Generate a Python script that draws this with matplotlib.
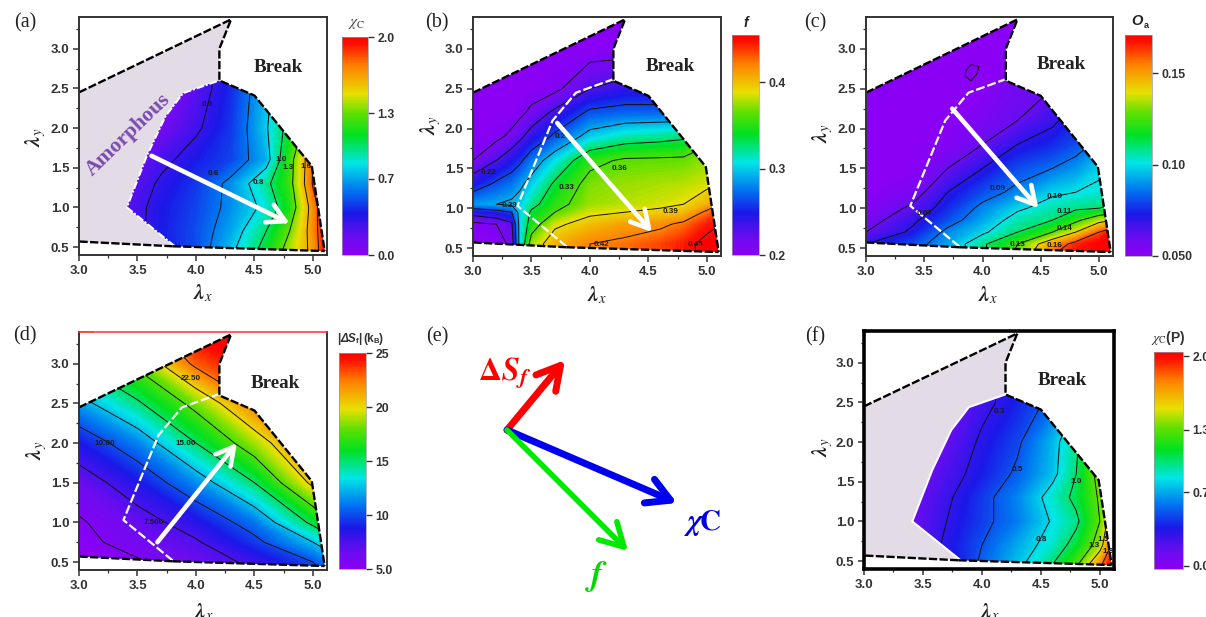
import numpy as np
import matplotlib
matplotlib.use('Agg')
import matplotlib.pyplot as plt
from matplotlib.colors import LinearSegmentedColormap, Normalize
from matplotlib.cm import ScalarMappable
from matplotlib.patches import Polygon
from matplotlib.ticker import MultipleLocator

plt.rcParams['font.family'] = ['Liberation Sans', 'DejaVu Sans']
plt.rcParams['mathtext.fontset'] = 'stix'

W, H = 1206, 617

# region outlines, (lambda_x, lambda_y)
outer_x = [3.0, 3.0, 4.3, 4.2, 4.2, 4.5, 4.99, 5.1, 3.8]
outer_y = [0.57, 2.45, 3.37, 3.0, 2.6, 2.41, 1.52, 0.45, 0.51]
inner_x = [3.41, 3.58, 3.74, 3.89, 4.2, 4.5, 4.99, 5.1, 3.82]
inner_y = [1.0, 1.65, 2.15, 2.44, 2.6, 2.41, 1.52, 0.45, 0.51]
white_x = [3.8, 3.38, 3.68, 3.88, 4.2]
white_y = [0.52, 1.03, 2.1, 2.45, 2.62]

# panel a, crystallinity
a_x = [3.0, 3.4, 3.7, 4.0, 4.3, 4.6, 4.8, 5.0, 5.12]
a_y = [0.4, 0.7, 1.0, 1.3, 1.6, 2.0, 2.5, 3.0, 3.4]
a_z = [[0.1, 0.18, 0.35, 0.5, 0.78, 1.1, 1.42, 1.65, 2.0],
       [0.1, 0.2, 0.38, 0.5, 0.7, 1.0, 1.3, 1.7, 2.0],
       [0.1, 0.2, 0.37, 0.48, 0.65, 0.85, 1.15, 1.7, 2.0],
       [0.05, 0.15, 0.33, 0.45, 0.65, 0.95, 1.22, 1.82, 2.0],
       [0.03, 0.1, 0.25, 0.38, 0.48, 0.72, 1.2, 1.8, 2.0],
       [0.0, 0.05, 0.12, 0.27, 0.45, 0.78, 1.08, 1.5, 1.8],
       [0.0, 0.0, 0.05, 0.2, 0.42, 0.75, 1.0, 1.5, 1.8],
       [0.0, 0.0, 0.05, 0.2, 0.42, 0.75, 1.0, 1.5, 1.8],
       [0.0, 0.0, 0.05, 0.2, 0.42, 0.75, 1.0, 1.5, 1.8]]
a_levels = [0.3, 0.6, 0.8, 1.0, 1.3, 1.6, 1.8]
a_labels = [('0.3', 4.1, 2.3), ('0.6', 4.15, 1.43), ('0.8', 4.53, 1.32),
            ('1.0', 4.73, 1.61), ('1.3', 4.79, 1.5), ('1.6', 4.94, 1.51)]

# panel b, volume fraction
b_x = [3.0, 3.2, 3.33, 3.4, 3.5, 3.7, 4.0, 4.3, 4.6, 4.8, 5.0, 5.12]
b_y = [0.4, 0.55, 0.8, 0.95, 1.05, 1.3, 1.6, 1.9, 2.2, 2.5, 3.0, 3.4]
b_z = [[.20, .20, .21, .28, .36, .40, .42, .425, .435, .445, .455, .455],
       [.20, .20, .215, .30, .375, .405, .42, .425, .435, .445, .455, .455],
       [.205, .21, .225, .30, .345, .385, .40, .41, .415, .425, .445, .45],
       [.24, .25, .26, .30, .335, .36, .385, .39, .395, .40, .425, .44],
       [.285, .29, .295, .30, .32, .35, .375, .38, .385, .39, .405, .42],
       [.245, .265, .275, .285, .30, .335, .37, .375, .378, .38, .385, .39],
       [.21, .23, .245, .255, .275, .305, .352, .364, .365, .366, .374, .38],
       [.20, .205, .215, .225, .24, .265, .30, .315, .32, .325, .35, .35],
       [.20, .20, .20, .205, .215, .235, .265, .27, .27, .27, .27, .27],
       [.20, .20, .20, .20, .20, .205, .23, .24, .24, .24, .24, .24],
       [.20, .20, .20, .20, .20, .20, .20, .20, .20, .20, .20, .20],
       [.20, .20, .20, .20, .20, .20, .20, .20, .20, .20, .20, .20]]
b_levels = [.21, .23, .26, .29, .33, .36, .39, .42, .45]
b_labels = [('0.22', 3.13, 1.45), ('0.29', 3.31, 1.03), ('0.2', 3.75, 1.9),
            ('0.33', 3.8, 1.26), ('0.36', 4.25, 1.5), ('0.39', 4.69, 0.96),
            ('0.42', 4.1, 0.55), ('0.45', 4.9, 0.55)]

# panel c, orientation
c_x = [3.0, 3.4, 3.7, 4.0, 4.3, 4.6, 4.8, 5.0, 5.12]
c_y = [0.4, 0.55, 0.7, 0.85, 1.0, 1.2, 1.5, 1.8, 2.1, 2.5, 3.0, 3.4]
c_z = [[.07, .078, .09, .108, .128, .16, .168, .171, .171],
       [.07, .08, .092, .108, .125, .15, .165, .171, .171],
       [.06, .072, .088, .098, .11, .125, .14, .16, .17],
       [.055, .068, .08, .092, .105, .11, .122, .135, .14],
       [.052, .062, .075, .088, .098, .105, .108, .11, .112],
       [.05, .055, .07, .08, .088, .098, .10, .102, .104],
       [.05, .05, .06, .07, .08, .085, .09, .098, .10],
       [.05, .05, .052, .06, .07, .075, .08, .088, .09],
       [.05, .05, .05, .055, .06, .068, .075, .08, .08],
       [.05, .05, .05, .05, .058, .06, .06, .06, .06],
       [.05, .05, .05, .05, .05, .05, .05, .05, .05],
       [.05, .05, .05, .05, .05, .05, .05, .05, .05]]
c_levels = [.06, .07, .085, .10, .11, .125, .14, .16]
c_labels = [('0.07', 3.5, 0.93), ('0.09', 4.13, 1.25), ('0.10', 4.62, 1.15),
            ('0.11', 4.7, 0.96), ('0.13', 4.3, 0.55), ('0.14', 4.7, 0.75),
            ('0.16', 4.62, 0.53)]
loop_x = [3.86, 3.9, 3.97, 3.95, 3.9, 3.85, 3.86]
loop_y = [2.73, 2.8, 2.78, 2.68, 2.6, 2.66, 2.73]

# panel d, entropy change
d_x = [3.0, 3.5, 4.0, 4.5, 5.0, 5.12]
d_y = [0.4, 0.5, 0.75, 1.0, 1.5, 2.0, 2.5, 3.0, 3.4]
d_z = [[5.0, 5.2, 6.3, 7.6, 9.5, 10.5],
       [5.0, 5.3, 6.5, 7.9, 10.0, 11.0],
       [5.0, 6.2, 7.3, 9.5, 12.5, 13.5],
       [5.3, 6.7, 8.4, 10.9, 15.5, 17.0],
       [6.5, 8.6, 11.4, 15.0, 20.5, 22.0],
       [8.7, 11.2, 15.0, 18.8, 23.0, 24.0],
       [11.8, 14.7, 18.2, 22.5, 25.0, 25.0],
       [15.0, 18.0, 23.0, 25.0, 25.0, 25.0],
       [18.0, 21.0, 25.0, 25.0, 25.0, 25.0]]
d_levels = [5.5, 7.5, 10, 12.5, 15, 17.5, 20, 22.5]
d_labels = [('10.00', 3.22, 2.0), ('15.00', 3.91, 2.0), ('7.500', 3.64, 1.0),
            ('22.50', 3.96, 2.81)]

# panel f, predicted crystallinity
f_x = [3.0, 3.4, 3.7, 4.0, 4.3, 4.6, 4.8, 5.0, 5.12]
f_y = [0.4, 0.7, 1.0, 1.3, 1.6, 2.0, 2.5, 3.0, 3.4]
f_z = [[.05, .1, .25, .55, .77, 1.03, 1.32, 1.8, 2.05],
       [.05, .15, .33, .5, .7, .88, 1.08, 1.4, 1.9],
       [.05, .12, .3, .45, .6, .82, .96, 1.3, 1.7],
       [.03, .1, .27, .44, .62, .88, 1.05, 1.33, 1.5],
       [.02, .05, .22, .37, .53, .75, 1.0, 1.4, 1.5],
       [.0, .02, .15, .33, .47, .73, .97, 1.3, 1.4],
       [.0, .0, .08, .25, .38, .55, .8, 1.1, 1.2],
       [.0, .0, .08, .25, .38, .55, .8, 1.1, 1.2],
       [.0, .0, .08, .25, .38, .55, .8, 1.1, 1.2]]
f_levels = [0.3, 0.5, 0.8, 1.0, 1.3, 1.5, 1.8]
f_labels = [('0.3', 4.15, 2.39), ('0.5', 4.3, 1.66), ('0.8', 4.5, 0.77),
            ('1.0', 4.8, 1.5), ('1.3', 4.95, 0.7), ('1.5', 5.03, 0.77),
            ('1.8', 5.07, 0.62)]

# colour bars
a_ticks = [0.0, 0.7, 1.3, 2.0]
a_ticklabels = ['0.0', '0.7', '1.3', '2.0']
b_ticks = [0.2, 0.3, 0.4]
b_ticklabels = ['0.2', '0.3', '0.4']
c_ticks = [0.05, 0.10, 0.15]
c_ticklabels = ['0.050', '0.10', '0.15']
d_ticks = [5, 10, 15, 20, 25]
d_ticklabels = ['5.0', '10', '15', '20', '25']

rainbow = LinearSegmentedColormap.from_list('rainbow_origin', [
    (0.0, '#8a00f5'), (0.08, '#6a0cf0'), (0.19, '#1a18e8'), (0.3, '#0078f0'),
    (0.42, '#00e6e6'), (0.55, '#00e020'), (0.65, '#60e000'), (0.74, '#e8e000'),
    (0.87, '#ff8000'), (0.97, '#ff1000'), (1.0, '#ff0000')])


def px_axes(fig, l, t, r, b):
    return fig.add_axes([l/W, 1-b/H, (r-l)/W, (b-t)/H])


def px_text(fig, x, y, s, **kw):
    kw.setdefault('ha', 'center')
    kw.setdefault('va', 'center')
    return fig.text(x/W, 1-y/H, s, **kw)


def draw_map(ax, xs, ys, zs, vmin, vmax, levels, labels, clip_x, clip_y, spine=1.4):
    norm = Normalize(vmin, vmax)
    clip = Polygon(np.column_stack([clip_x, clip_y]), closed=True, transform=ax.transData,
                   fc='none', ec='none')
    ax.add_patch(clip)
    # many thin bands so that the fill looks smooth
    fill = ax.contourf(xs, ys, np.array(zs), levels=np.linspace(vmin, vmax, 160), cmap=rainbow,
                       norm=norm, extend='both', antialiased=False)
    fill.set_clip_path(clip)
    cs = ax.contour(xs, ys, np.array(zs), levels=levels, colors='#111111', linewidths=0.7)
    cs.set_clip_path(clip)
    for s, lx, ly in labels:
        ax.text(lx, ly, s, fontsize=5.8, fontweight='bold', color='#1a1a1a',
                ha='center', va='center')
    ax.set_xlim(3.0, 5.12)
    ax.set_ylim(0.4, 3.4)
    ax.xaxis.set_major_locator(MultipleLocator(0.5))
    ax.xaxis.set_minor_locator(MultipleLocator(0.25))
    ax.yaxis.set_major_locator(MultipleLocator(0.5))
    ax.yaxis.set_minor_locator(MultipleLocator(0.25))
    ax.tick_params(which='major', length=4, width=1.1, labelsize=9.5, color='#333333',
                   labelcolor='#333333', pad=3)
    ax.tick_params(which='minor', length=2.2, width=0.9, color='#333333')
    for t in ax.get_xticklabels() + ax.get_yticklabels():
        t.set_fontweight('bold')
    for sp in ax.spines.values():
        sp.set_linewidth(spine)
        sp.set_color('#333333')


def draw_borders(ax):
    ax.plot([outer_x[-1]] + outer_x[:1], [outer_y[-1]] + outer_y[:1], 'k--', lw=1.7, dashes=(3.5, 1))
    ax.plot(outer_x[1:8], outer_y[1:8], 'k--', lw=1.7, dashes=(3.5, 1))
    ax.plot([outer_x[-1], outer_x[-2]], [outer_y[-1], outer_y[-2]], 'k--', lw=1.7, dashes=(3.5, 1))


def draw_white(ax):
    ax.plot(white_x, white_y, '--', color='white', lw=1.6, dashes=(4, 1.3))


def draw_arrow(ax, start, end):
    ax.annotate('', xy=end, xytext=start,
                arrowprops=dict(arrowstyle='->,head_length=0.9,head_width=0.5', color='white',
                                lw=3.3, shrinkA=0, shrinkB=0, mutation_scale=14))


def break_label(ax, x, y):
    ax.text(x, y, 'Break', family='Liberation Serif', fontweight='bold', fontsize=13.8,
            color='#222222', ha='center', va='center')


def draw_bar(fig, l, t, r, b, vmin, vmax, ticks, labels):
    cax = px_axes(fig, l, t, r, b)
    cb = fig.colorbar(ScalarMappable(Normalize(vmin, vmax), rainbow), cax=cax)
    cb.set_ticks(ticks)
    cb.set_ticklabels(labels)
    cb.outline.set_linewidth(0.5)
    cb.outline.set_edgecolor('#999999')
    cax.tick_params(length=4, width=1, labelsize=8.8, color='#333333', labelcolor='#333333', pad=3)
    for t_ in cax.get_yticklabels():
        t_.set_fontweight('bold')
    return cax


def lambda_labels(fig, xx, xy, yx, yy):
    px_text(fig, xx, xy, r'$\mathbfit{\lambda}_{\mathit{x}}$', fontsize=15, color='#222222')
    px_text(fig, yx, yy, r'$\mathbfit{\lambda}_{\mathit{y}}$', fontsize=15, color='#222222', rotation=90)


fig = plt.figure(figsize=(W/100, H/100), dpi=100, facecolor='white')

# (a)
ax = px_axes(fig, 79, 17, 327, 255)
ax.add_patch(Polygon(np.column_stack([outer_x, outer_y]), closed=True, fc='#e3dce6', ec='none'))
draw_map(ax, a_x, a_y, a_z, 0.0, 2.0, a_levels, a_labels, inner_x, inner_y)
ax.plot([inner_x[8]] + inner_x[:5], [inner_y[8]] + inner_y[:5],
        color='white', lw=1.4, ls=(0, (4, 1, 1, 1)))
draw_borders(ax)
draw_arrow(ax, (3.62, 1.65), (4.8, 0.8))
break_label(ax, 4.7, 2.76)
ax.text(3.42, 1.92, 'Amorphous', family='Liberation Serif', fontweight='bold', fontsize=15.6,
        color='#7a4bb0', rotation=44, ha='center', va='center')
draw_bar(fig, 342, 37, 368, 255, 0.0, 2.0, a_ticks, a_ticklabels)
px_text(fig, 357, 24, r'$\chi_{\mathrm{C}}$', fontsize=11, color='#444444')
lambda_labels(fig, 203, 293, 36, 137)

# (b)
ax = px_axes(fig, 473, 17, 721, 256)
draw_map(ax, b_x, b_y, b_z, 0.2, 0.455, b_levels, b_labels, outer_x, outer_y)
draw_white(ax)
draw_borders(ax)
draw_arrow(ax, (3.72, 2.07), (4.53, 0.7))
break_label(ax, 4.69, 2.78)
draw_bar(fig, 732, 35, 759, 255, 0.2, 0.455, b_ticks, b_ticklabels)
px_text(fig, 746, 23, 'f', fontsize=10, fontweight='bold', style='italic', color='#222222')
lambda_labels(fig, 597, 295, 431, 125)

# (c)
ax = px_axes(fig, 866, 17, 1113, 256)
draw_map(ax, c_x, c_y, c_z, 0.05, 0.171, c_levels, c_labels, outer_x, outer_y)
ax.plot(loop_x, loop_y, color='#111111', lw=0.7)
draw_white(ax)
draw_borders(ax)
draw_arrow(ax, (3.74, 2.25), (4.48, 1.0))
break_label(ax, 4.68, 2.8)
draw_bar(fig, 1125, 35, 1152, 256, 0.05, 0.171, c_ticks, c_ticklabels)
px_text(fig, 1137, 21, 'O', fontsize=10.5, fontweight='bold', style='italic', color='#222222')
px_text(fig, 1146, 25, 'a', fontsize=6.5, fontweight='bold', color='#222222')
lambda_labels(fig, 988, 295, 823, 133)

# (d)
ax = px_axes(fig, 79, 332, 327, 570)
draw_map(ax, d_x, d_y, d_z, 5.0, 25.0, d_levels, d_labels, outer_x, outer_y)
ax.spines['top'].set_color('#ff3030')
ax.spines['top'].set_linewidth(1.1)
ax.plot([3.0, 3.12], [3.4, 3.4], color='#b8d820', lw=1.4, clip_on=False)
draw_white(ax)
draw_borders(ax)
draw_arrow(ax, (3.67, 0.75), (4.35, 2.0))
break_label(ax, 4.68, 2.75)
draw_bar(fig, 339, 353, 366, 569, 5.0, 25.0, d_ticks, d_ticklabels)
d_title = [(337, '|', 8.5, 'normal', 339), (340, '\u0394S', 8.5, 'italic', 339), (355.5, 'f', 5.5, 'normal', 342),
           (358.5, '|', 8.5, 'normal', 339), (363, '(k', 8.5, 'normal', 339), (374, 'B', 5.5, 'normal', 342),
           (379, ')', 8.5, 'normal', 339)]
for tx, ts, fs, st, ty in d_title:
    px_text(fig, tx, ty, ts, ha='left', fontsize=fs, fontweight='bold', style=st, color='#333333')
lambda_labels(fig, 204, 612, 37, 450)

# (e)
ax = px_axes(fig, 410, 310, 800, 617)
ax.set_xlim(410, 800)
ax.set_ylim(617, 310)
ax.axis('off')
e_origin = (507, 430)
e_ends = [(565, 360), (677, 503), (628, 551)]
e_colors = ['#ff0000', '#0000f0', '#00e800']
e_widths = [5.0, 5.0, 4.0]
for end, col, lw in zip(e_ends, e_colors, e_widths):
    ax.annotate('', xy=end, xytext=e_origin,
                arrowprops=dict(arrowstyle='->,head_length=0.75,head_width=0.42', color=col,
                                lw=lw, shrinkA=0, shrinkB=0, mutation_scale=22))
px_text(fig, 505, 373, r'$\mathbf{\Delta}\mathbfit{S}_{\mathbfit{f}}$', fontsize=23, color='#ff0000')
px_text(fig, 703, 523, r'$\mathbfit{\chi}\mathbf{C}$', fontsize=21, color='#0000e8')
px_text(fig, 597, 577, r'$\mathbfit{f}$', fontsize=25, color='#00d800')

# (f)
ax = px_axes(fig, 864, 331, 1114, 569)
ax.add_patch(Polygon(np.column_stack([outer_x, outer_y]), closed=True, fc='#e3dce6', ec='none'))
draw_map(ax, f_x, f_y, f_z, -0.03, 2.04, f_levels, f_labels, inner_x, inner_y, spine=2.6)
for sp in ax.spines.values():
    sp.set_color('black')
ax.plot(inner_x[:5], inner_y[:5], color='white', lw=1.4)
ax.plot([inner_x[0], inner_x[8]], [inner_y[0], inner_y[8]], color='white', lw=1.4)
draw_borders(ax)
break_label(ax, 4.68, 2.78)
draw_bar(fig, 1154, 352, 1183, 569, -0.03, 2.04, a_ticks, a_ticklabels)
px_text(fig, 1168, 338, r'$\chi_{\mathrm{C}}$(P)', fontsize=10, fontweight='bold', color='#333333')
lambda_labels(fig, 990, 612, 823, 447)

# panel letters
panel_names = ['(a)', '(b)', '(c)', '(d)', '(e)', '(f)']
panel_px = [(25, 23), (437, 23), (815, 23), (25, 336), (437, 337), (815, 337)]
for name, (lx, ly) in zip(panel_names, panel_px):
    px_text(fig, lx, ly, name, family='Liberation Serif', fontsize=14.5, color='#222222')

fig.savefig('out.png', dpi=100)
